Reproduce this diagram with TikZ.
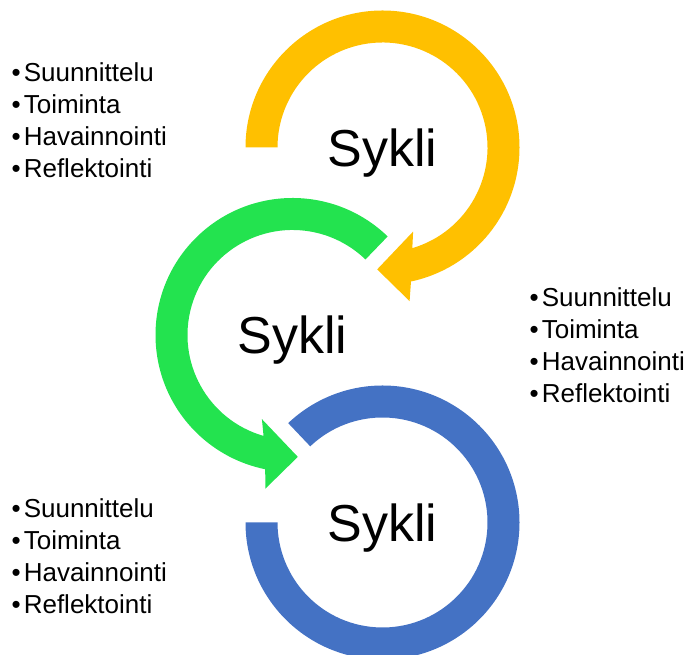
\documentclass[tikz,border=0pt]{standalone}
\usepackage{fontspec}
\setmainfont{Liberation Sans}
\usepackage{xcolor}
\usetikzlibrary{positioning}
\usetikzlibrary{calc}

\definecolor{keltainen}{RGB}{255,192,0}
\definecolor{vihrea}{RGB}{35,227,79}
\definecolor{sininen}{RGB}{68,114,196}

\newcommand{\vaiheet}{\textbullet\kern3pt Suunnittelu\\\textbullet\kern3pt Toiminta\\\textbullet\kern3pt Havainnointi\\\textbullet\kern3pt Reflektointi}

\tikzset{
  lista/.style={anchor=west, inner sep=0pt, align=left, font=\fontsize{26}{32}\selectfont},
  otsikko/.style={anchor=base, inner sep=0pt, font=\fontsize{52}{60}\selectfont},
}

\begin{document}
\begin{tikzpicture}[x=1pt,y=1pt]
\clip (0,0) rectangle (688,655);
\useasboundingbox (0,0) rectangle (688,655);
% keskipisteet
\coordinate (Y) at (382.5,507.5);
\coordinate (G) at (292.5,320);
\coordinate (B) at (382.5,132.5);
% keltainen kaari nuolella
\fill[keltainen] ($(Y)+(180:137)$) arc[start angle=180, end angle=-78, radius=137] -- ($(Y)+(-80:156)$) -- ($(Y)+(-92.5:122)$) -- ($(Y)+(-70:89.5)$) -- ($(Y)+(-73.5:105)$) arc[start angle=-73.5, end angle=180, radius=105] -- cycle;
% vihrea kaari nuolella
\fill[vihrea] ($(G)+(46:137)$) arc[start angle=46, end angle=258.5, radius=137] -- ($(G)+(260:156)$) -- ($(G)+(272.5:122)$) -- ($(G)+(250:89.5)$) -- ($(G)+(254:105)$) arc[start angle=254, end angle=46, radius=105] -- cycle;
% sininen kaari
\fill[sininen] ($(B)+(180:137)$) arc[start angle=180, end angle=493.5, radius=137] -- ($(B)+(493.5:105)$) arc[start angle=493.5, end angle=180, radius=105] -- cycle;
% tekstit
\node[otsikko] (sykli1) at ($(Y)+(0,-18.6)$) {Sykli};
\node[otsikko] (sykli2) at ($(G)+(0,-18.6)$) {Sykli};
\node[otsikko] (sykli3) at ($(B)+(0,-18.6)$) {Sykli};
\node[lista] (lista1) at (11.5,534.6) {\vaiheet};
\node[lista] (lista2) at (529.5,310) {\vaiheet};
\node[lista] (lista3) at (11.5,98.7) {\vaiheet};
\end{tikzpicture}
\end{document}
